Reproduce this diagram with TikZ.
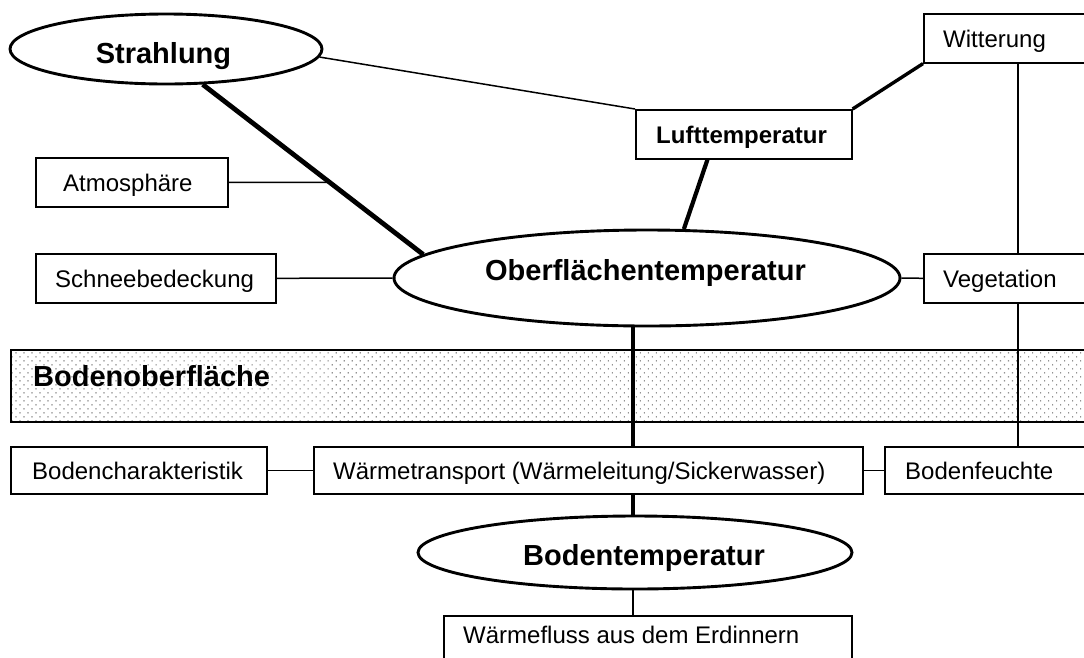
\documentclass[tikz,border=0pt]{standalone}
\usepackage{fontspec}
\setmainfont{Liberation Sans}
\usetikzlibrary{shapes.geometric,patterns.meta,calc}
\begin{document}
\begin{tikzpicture}[x=1pt,y=-1pt,
  box/.style={draw, line width=1.6pt, rectangle, inner sep=0pt, anchor=north west, fill=white},
  txt/.style={inner sep=0pt, font=\fontsize{24}{28}\selectfont, text height=17pt, text depth=0pt, anchor=west},
  btxt/.style={txt, font=\fontsize{24}{28}\selectfont\bfseries},
  big/.style={inner sep=0pt, font=\fontsize{29}{34}\selectfont\bfseries},
  ell/.style={draw, ellipse, line width=2.9pt, inner sep=0pt, fill=white},
  lnthin/.style={line width=1.5pt},
  lnthick/.style={line width=4.8pt},
]
\useasboundingbox (0,0) rectangle (1084,657);

% soil surface band
\node[draw, line width=1.5pt, anchor=north west, inner sep=0pt,
      minimum width=1090pt, minimum height=72pt,
      pattern={Dots[radius=0.8pt, distance=5.66pt, angle=45]}, pattern color=black!65] (band) at (10,349) {};
\node[big, anchor=base west] (bandt) at (33,386) {Bodenoberfläche};

% ellipses
\node[ell, minimum width=312pt, minimum height=70pt] (S) at (166,49) {};
\node[big, anchor=base] (St) at (163.5,63) {Strahlung};
\node[ell, minimum width=506pt, minimum height=96pt] (O) at (647,278) {};
\node[big, anchor=base] (Ot) at (645.5,280) {Oberflächentemperatur};
\node[ell, minimum width=434pt, minimum height=73pt] (B) at (635,552.5) {};
\node[big, anchor=base] (Bt) at (644,565) {Bodentemperatur};

% boxes
\node[box, minimum width=170pt, minimum height=49pt] (W) at (923,13) {};
\node[txt] (Wt) at ($(W.west)+(20,1)$) {Witterung};
\node[box, minimum width=216pt, minimum height=49pt] (L) at (635,109) {};
\node[btxt] (Lt) at ($(L.west)+(21,1)$) {Lufttemperatur};
\node[box, minimum width=192pt, minimum height=49pt] (A) at (35,157) {};
\node[txt] (At) at ($(A.west)+(28,1)$) {Atmosphäre};
\node[box, minimum width=240pt, minimum height=49pt] (Sc) at (35,253) {};
\node[txt] (Sct) at ($(Sc.west)+(20,1)$) {Schneebedeckung};
\node[box, minimum width=170pt, minimum height=49pt] (V) at (923,253) {};
\node[txt] (Vt) at ($(V.west)+(20,1)$) {Vegetation};
\node[box, minimum width=256pt, minimum height=47pt] (Bc) at (10,446) {};
\node[txt] (Bct) at ($(Bc.west)+(22,1)$) {Bodencharakteristik};
\node[box, minimum width=549pt, minimum height=47pt] (T) at (313,446) {};
\node[txt] (Tt) at ($(T.west)+(20,1)$) {Wärmetransport (Wärmeleitung/Sickerwasser)};
\node[box, minimum width=210pt, minimum height=47pt] (F) at (884,446) {};
\node[txt] (Ft) at ($(F.west)+(21,1)$) {Bodenfeuchte};
\node[box, minimum width=408pt, minimum height=50pt] (E) at (443,615) {};
\node[txt] (Et) at ($(E.north west)+(20,20)$) {Wärmefluss aus dem Erdinnern};

% helper coordinates
\coordinate (tx) at (633,0);
\coordinate (vx) at (1018,0);
\coordinate (s1) at (S.-44);
\coordinate (o1) at (O.174);
\coordinate (ax) at ($(A.east)+(200,0)$);

% connectors
\draw[lnthick] (s1) -- (o1);
\draw[lnthin] (A.east) -- (intersection of A.east--ax and s1--o1);
\draw[lnthin] (S.-3) -- (L.north west);
\draw[line width=3.4pt] (W.south west) -- (L.north east);
\draw[line width=4.2pt] ($(L.south west)!0.333!(L.south east)$) -- (O.53);
\draw[lnthin] (Sc.east) -- (O.west);
\draw[lnthin] (O.east) -- (V.west);
\draw[lnthin] (W.south -| vx) -- (V.north -| vx);
\draw[lnthin] (V.south -| vx) -- (F.north -| vx);
\draw[lnthick] (O.south -| tx) -- (T.north -| tx);
\draw[lnthick] (T.south -| tx) -- (B.north -| tx);
\draw[lnthin] (Bc.east) -- (T.west);
\draw[lnthin] (T.east) -- (F.west);
\draw[lnthin] (B.south -| tx) -- (E.north -| tx);
\end{tikzpicture}
\end{document}
